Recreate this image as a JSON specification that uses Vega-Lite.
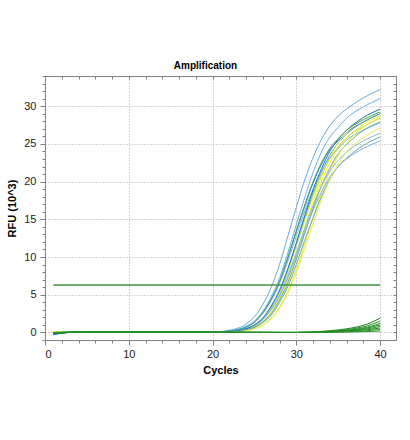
{
"$schema":"https://vega.github.io/schema/vega-lite/v6.json",
"width":351,"height":264,
"autosize":{"type":"none"},
"padding":{"left":45,"top":76,"right":14,"bottom":100},
"background":"white",
"title":{"text":"Amplification","fontSize":10,"fontWeight":"bold","font":"Liberation Sans","anchor":"middle","frame":"group","dx":-15,"offset":5,"color":"#000"},
"data":{"values":[
{"s":"a1","c":1,"v":-0.2},{"s":"a1","c":4,"v":0.1},{"s":"a1","c":9,"v":0},{"s":"a1","c":20,"v":0.05},{"s":"a1","c":22,"v":0.3},{"s":"a1","c":24,"v":1.1},{"s":"a1","c":25,"v":2.1},{"s":"a1","c":26,"v":3.7},{"s":"a1","c":27,"v":6.0},{"s":"a1","c":28,"v":9.0},{"s":"a1","c":29,"v":12.8},{"s":"a1","c":30,"v":16.6},{"s":"a1","c":31,"v":20.2},{"s":"a1","c":32,"v":23.2},{"s":"a1","c":33,"v":25.6},{"s":"a1","c":34,"v":27.4},{"s":"a1","c":35,"v":28.7},{"s":"a1","c":36,"v":29.6},{"s":"a1","c":38,"v":31.1},{"s":"a1","c":40,"v":32.2},
{"s":"a2","c":1,"v":-0.1},{"s":"a2","c":4,"v":0.12},{"s":"a2","c":9,"v":0},{"s":"a2","c":20,"v":0.03},{"s":"a2","c":22,"v":0.2},{"s":"a2","c":24,"v":0.8},{"s":"a2","c":25,"v":1.5},{"s":"a2","c":26,"v":2.8},{"s":"a2","c":27,"v":4.7},{"s":"a2","c":28,"v":7.2},{"s":"a2","c":29,"v":10.6},{"s":"a2","c":30,"v":14.3},{"s":"a2","c":31,"v":17.9},{"s":"a2","c":32,"v":21.2},{"s":"a2","c":33,"v":23.9},{"s":"a2","c":34,"v":25.9},{"s":"a2","c":35,"v":27.2},{"s":"a2","c":36,"v":28.4},{"s":"a2","c":38,"v":29.9},{"s":"a2","c":40,"v":31.0},
{"s":"a3","c":1,"v":-0.25},{"s":"a3","c":4,"v":0.08},{"s":"a3","c":9,"v":0},{"s":"a3","c":20,"v":0.03},{"s":"a3","c":22,"v":0.18},{"s":"a3","c":24,"v":0.7},{"s":"a3","c":25,"v":1.4},{"s":"a3","c":26,"v":2.6},{"s":"a3","c":27,"v":4.4},{"s":"a3","c":28,"v":6.7},{"s":"a3","c":29,"v":9.9},{"s":"a3","c":30,"v":13.4},{"s":"a3","c":31,"v":16.7},{"s":"a3","c":32,"v":19.8},{"s":"a3","c":33,"v":22.3},{"s":"a3","c":34,"v":24.2},{"s":"a3","c":35,"v":25.4},{"s":"a3","c":36,"v":26.5},{"s":"a3","c":38,"v":27.9},{"s":"a3","c":40,"v":29.0},
{"s":"a4","c":1,"v":0},{"s":"a4","c":4,"v":0.1},{"s":"a4","c":9,"v":0},{"s":"a4","c":20,"v":0.02},{"s":"a4","c":22,"v":0.12},{"s":"a4","c":24,"v":0.5},{"s":"a4","c":25,"v":1.0},{"s":"a4","c":26,"v":1.9},{"s":"a4","c":27,"v":3.4},{"s":"a4","c":28,"v":5.5},{"s":"a4","c":29,"v":8.3},{"s":"a4","c":30,"v":11.7},{"s":"a4","c":31,"v":15.2},{"s":"a4","c":32,"v":18.5},{"s":"a4","c":33,"v":21.3},{"s":"a4","c":34,"v":23.5},{"s":"a4","c":35,"v":25.1},{"s":"a4","c":36,"v":26.3},{"s":"a4","c":38,"v":27.9},{"s":"a4","c":40,"v":29.0},
{"s":"a5","c":1,"v":0.05},{"s":"a5","c":4,"v":0.1},{"s":"a5","c":9,"v":0},{"s":"a5","c":20,"v":0},{"s":"a5","c":22,"v":0.08},{"s":"a5","c":24,"v":0.36},{"s":"a5","c":25,"v":0.72},{"s":"a5","c":26,"v":1.4},{"s":"a5","c":27,"v":2.6},{"s":"a5","c":28,"v":4.4},{"s":"a5","c":29,"v":6.8},{"s":"a5","c":30,"v":10.0},{"s":"a5","c":31,"v":13.5},{"s":"a5","c":32,"v":16.9},{"s":"a5","c":33,"v":20.0},{"s":"a5","c":34,"v":22.5},{"s":"a5","c":35,"v":24.4},{"s":"a5","c":36,"v":25.7},{"s":"a5","c":38,"v":27.6},{"s":"a5","c":40,"v":28.75},
{"s":"a6","c":1,"v":-0.15},{"s":"a6","c":4,"v":0.12},{"s":"a6","c":9,"v":0},{"s":"a6","c":20,"v":0},{"s":"a6","c":22,"v":0.08},{"s":"a6","c":24,"v":0.37},{"s":"a6","c":25,"v":0.74},{"s":"a6","c":26,"v":1.4},{"s":"a6","c":27,"v":2.7},{"s":"a6","c":28,"v":4.5},{"s":"a6","c":29,"v":7.0},{"s":"a6","c":30,"v":10.3},{"s":"a6","c":31,"v":13.9},{"s":"a6","c":32,"v":17.4},{"s":"a6","c":33,"v":20.6},{"s":"a6","c":34,"v":23.2},{"s":"a6","c":35,"v":25.1},{"s":"a6","c":36,"v":26.5},{"s":"a6","c":38,"v":28.4},{"s":"a6","c":40,"v":29.6},
{"s":"a7","c":1,"v":0},{"s":"a7","c":4,"v":0.1},{"s":"a7","c":9,"v":0},{"s":"a7","c":20,"v":0.02},{"s":"a7","c":22,"v":0.12},{"s":"a7","c":24,"v":0.5},{"s":"a7","c":25,"v":1.0},{"s":"a7","c":26,"v":1.9},{"s":"a7","c":27,"v":3.3},{"s":"a7","c":28,"v":5.4},{"s":"a7","c":29,"v":8.1},{"s":"a7","c":30,"v":11.5},{"s":"a7","c":31,"v":14.9},{"s":"a7","c":32,"v":18.1},{"s":"a7","c":33,"v":20.9},{"s":"a7","c":34,"v":23.0},{"s":"a7","c":35,"v":24.6},{"s":"a7","c":36,"v":25.8},{"s":"a7","c":38,"v":27.3},{"s":"a7","c":40,"v":28.4},
{"s":"a8","c":1,"v":-0.2},{"s":"a8","c":4,"v":0.08},{"s":"a8","c":9,"v":0},{"s":"a8","c":20,"v":0.03},{"s":"a8","c":22,"v":0.17},{"s":"a8","c":24,"v":0.7},{"s":"a8","c":25,"v":1.3},{"s":"a8","c":26,"v":2.5},{"s":"a8","c":27,"v":4.2},{"s":"a8","c":28,"v":6.5},{"s":"a8","c":29,"v":9.5},{"s":"a8","c":30,"v":12.8},{"s":"a8","c":31,"v":16.1},{"s":"a8","c":32,"v":19.0},{"s":"a8","c":33,"v":21.4},{"s":"a8","c":34,"v":23.2},{"s":"a8","c":35,"v":24.4},{"s":"a8","c":36,"v":25.5},{"s":"a8","c":38,"v":26.8},{"s":"a8","c":40,"v":27.8},
{"s":"a9","c":1,"v":-0.05},{"s":"a9","c":4,"v":0.1},{"s":"a9","c":9,"v":0},{"s":"a9","c":20,"v":0},{"s":"a9","c":22,"v":0.08},{"s":"a9","c":24,"v":0.35},{"s":"a9","c":25,"v":0.7},{"s":"a9","c":26,"v":1.4},{"s":"a9","c":27,"v":2.5},{"s":"a9","c":28,"v":4.3},{"s":"a9","c":29,"v":6.6},{"s":"a9","c":30,"v":9.7},{"s":"a9","c":31,"v":13.1},{"s":"a9","c":32,"v":16.4},{"s":"a9","c":33,"v":19.4},{"s":"a9","c":34,"v":21.8},{"s":"a9","c":35,"v":23.7},{"s":"a9","c":36,"v":24.9},{"s":"a9","c":38,"v":26.8},{"s":"a9","c":40,"v":27.9},
{"s":"a10","c":1,"v":0.05},{"s":"a10","c":4,"v":0.1},{"s":"a10","c":9,"v":0},{"s":"a10","c":20,"v":0},{"s":"a10","c":22,"v":0.05},{"s":"a10","c":24,"v":0.25},{"s":"a10","c":25,"v":0.5},{"s":"a10","c":26,"v":1.0},{"s":"a10","c":27,"v":1.9},{"s":"a10","c":28,"v":3.4},{"s":"a10","c":29,"v":5.5},{"s":"a10","c":30,"v":8.3},{"s":"a10","c":31,"v":11.7},{"s":"a10","c":32,"v":15.2},{"s":"a10","c":33,"v":18.5},{"s":"a10","c":34,"v":21.3},{"s":"a10","c":35,"v":23.5},{"s":"a10","c":36,"v":25.1},{"s":"a10","c":38,"v":27.2},{"s":"a10","c":40,"v":28.5},
{"s":"a11","c":1,"v":-0.1},{"s":"a11","c":4,"v":0.1},{"s":"a11","c":9,"v":0},{"s":"a11","c":20,"v":0.02},{"s":"a11","c":22,"v":0.11},{"s":"a11","c":24,"v":0.46},{"s":"a11","c":25,"v":0.9},{"s":"a11","c":26,"v":1.7},{"s":"a11","c":27,"v":3.1},{"s":"a11","c":28,"v":5.0},{"s":"a11","c":29,"v":7.6},{"s":"a11","c":30,"v":10.6},{"s":"a11","c":31,"v":13.8},{"s":"a11","c":32,"v":16.8},{"s":"a11","c":33,"v":19.4},{"s":"a11","c":34,"v":21.4},{"s":"a11","c":35,"v":22.8},{"s":"a11","c":36,"v":23.9},{"s":"a11","c":38,"v":25.4},{"s":"a11","c":40,"v":26.4},
{"s":"a12","c":1,"v":-0.2},{"s":"a12","c":4,"v":0.08},{"s":"a12","c":9,"v":0},{"s":"a12","c":20,"v":0},{"s":"a12","c":22,"v":0.07},{"s":"a12","c":24,"v":0.32},{"s":"a12","c":25,"v":0.65},{"s":"a12","c":26,"v":1.3},{"s":"a12","c":27,"v":2.3},{"s":"a12","c":28,"v":4.0},{"s":"a12","c":29,"v":6.1},{"s":"a12","c":30,"v":9.0},{"s":"a12","c":31,"v":12.2},{"s":"a12","c":32,"v":15.2},{"s":"a12","c":33,"v":18.0},{"s":"a12","c":34,"v":20.3},{"s":"a12","c":35,"v":22.0},{"s":"a12","c":36,"v":23.1},{"s":"a12","c":38,"v":24.8},{"s":"a12","c":40,"v":25.9},
{"s":"a13","c":1,"v":-0.15},{"s":"a13","c":4,"v":0.1},{"s":"a13","c":9,"v":0},{"s":"a13","c":20,"v":0.02},{"s":"a13","c":22,"v":0.1},{"s":"a13","c":24,"v":0.44},{"s":"a13","c":25,"v":0.9},{"s":"a13","c":26,"v":1.7},{"s":"a13","c":27,"v":3.0},{"s":"a13","c":28,"v":4.8},{"s":"a13","c":29,"v":7.3},{"s":"a13","c":30,"v":10.2},{"s":"a13","c":31,"v":13.3},{"s":"a13","c":32,"v":16.2},{"s":"a13","c":33,"v":18.6},{"s":"a13","c":34,"v":20.6},{"s":"a13","c":35,"v":22.0},{"s":"a13","c":36,"v":23.0},{"s":"a13","c":38,"v":24.4},{"s":"a13","c":40,"v":25.4},
{"s":"a14","c":1,"v":0},{"s":"a14","c":4,"v":0.1},{"s":"a14","c":9,"v":0},{"s":"a14","c":20,"v":0},{"s":"a14","c":22,"v":0.05},{"s":"a14","c":24,"v":0.24},{"s":"a14","c":25,"v":0.48},{"s":"a14","c":26,"v":0.95},{"s":"a14","c":27,"v":1.8},{"s":"a14","c":28,"v":3.2},{"s":"a14","c":29,"v":5.2},{"s":"a14","c":30,"v":7.9},{"s":"a14","c":31,"v":11.1},{"s":"a14","c":32,"v":14.4},{"s":"a14","c":33,"v":17.6},{"s":"a14","c":34,"v":20.2},{"s":"a14","c":35,"v":22.3},{"s":"a14","c":36,"v":23.9},{"s":"a14","c":38,"v":25.8},{"s":"a14","c":40,"v":27.1},
{"s":"a15","c":1,"v":-0.3},{"s":"a15","c":4,"v":0.1},{"s":"a15","c":9,"v":0},{"s":"a15","c":20,"v":0.02},{"s":"a15","c":22,"v":0.12},{"s":"a15","c":24,"v":0.5},{"s":"a15","c":25,"v":1.0},{"s":"a15","c":26,"v":1.9},{"s":"a15","c":27,"v":3.5},{"s":"a15","c":28,"v":5.6},{"s":"a15","c":29,"v":8.5},{"s":"a15","c":30,"v":11.9},{"s":"a15","c":31,"v":15.5},{"s":"a15","c":32,"v":18.9},{"s":"a15","c":33,"v":21.7},{"s":"a15","c":34,"v":24.0},{"s":"a15","c":35,"v":25.6},{"s":"a15","c":36,"v":26.8},{"s":"a15","c":38,"v":28.5},{"s":"a15","c":40,"v":29.6},
{"s":"a16","c":1,"v":-0.1},{"s":"a16","c":4,"v":0.1},{"s":"a16","c":9,"v":0},{"s":"a16","c":20,"v":0.03},{"s":"a16","c":22,"v":0.18},{"s":"a16","c":24,"v":0.72},{"s":"a16","c":25,"v":1.4},{"s":"a16","c":26,"v":2.6},{"s":"a16","c":27,"v":4.4},{"s":"a16","c":28,"v":6.8},{"s":"a16","c":29,"v":10.0},{"s":"a16","c":30,"v":13.5},{"s":"a16","c":31,"v":16.9},{"s":"a16","c":32,"v":20.0},{"s":"a16","c":33,"v":22.5},{"s":"a16","c":34,"v":24.4},{"s":"a16","c":35,"v":25.7},{"s":"a16","c":36,"v":26.8},{"s":"a16","c":38,"v":28.2},{"s":"a16","c":40,"v":29.25},
{"s":"n1","c":1,"v":-0.1},{"s":"n1","c":5,"v":0.05},{"s":"n1","c":30,"v":0},{"s":"n1","c":34,"v":0.23},{"s":"n1","c":36,"v":0.48},{"s":"n1","c":38,"v":0.95},{"s":"n1","c":39,"v":1.35},{"s":"n1","c":40,"v":1.9},
{"s":"n2","c":1,"v":0},{"s":"n2","c":5,"v":0.05},{"s":"n2","c":30,"v":0},{"s":"n2","c":34,"v":0.18},{"s":"n2","c":36,"v":0.38},{"s":"n2","c":38,"v":0.75},{"s":"n2","c":39,"v":1.07},{"s":"n2","c":40,"v":1.5},
{"s":"n3","c":1,"v":-0.05},{"s":"n3","c":5,"v":0.05},{"s":"n3","c":30,"v":0},{"s":"n3","c":34,"v":0.14},{"s":"n3","c":36,"v":0.3},{"s":"n3","c":38,"v":0.6},{"s":"n3","c":39,"v":0.85},{"s":"n3","c":40,"v":1.2},
{"s":"n4","c":1,"v":-0.1},{"s":"n4","c":5,"v":0.05},{"s":"n4","c":30,"v":0},{"s":"n4","c":34,"v":0.12},{"s":"n4","c":36,"v":0.25},{"s":"n4","c":38,"v":0.5},{"s":"n4","c":39,"v":0.71},{"s":"n4","c":40,"v":1.0},
{"s":"n5","c":1,"v":0},{"s":"n5","c":5,"v":0.05},{"s":"n5","c":30,"v":0},{"s":"n5","c":34,"v":0.1},{"s":"n5","c":36,"v":0.2},{"s":"n5","c":38,"v":0.4},{"s":"n5","c":39,"v":0.57},{"s":"n5","c":40,"v":0.8},
{"s":"n6","c":1,"v":-0.05},{"s":"n6","c":5,"v":0.05},{"s":"n6","c":30,"v":0},{"s":"n6","c":34,"v":0.07},{"s":"n6","c":36,"v":0.15},{"s":"n6","c":38,"v":0.3},{"s":"n6","c":39,"v":0.43},{"s":"n6","c":40,"v":0.6},
{"s":"n7","c":1,"v":0},{"s":"n7","c":5,"v":0.05},{"s":"n7","c":30,"v":0},{"s":"n7","c":34,"v":0.05},{"s":"n7","c":36,"v":0.1},{"s":"n7","c":38,"v":0.2},{"s":"n7","c":39,"v":0.28},{"s":"n7","c":40,"v":0.4},
{"s":"n8","c":1,"v":-0.1},{"s":"n8","c":5,"v":0.05},{"s":"n8","c":30,"v":0},{"s":"n8","c":34,"v":0.02},{"s":"n8","c":36,"v":0.05},{"s":"n8","c":38,"v":0.1},{"s":"n8","c":39,"v":0.14},{"s":"n8","c":40,"v":0.2}
]},
"layer":[
{"mark":{"type":"line","interpolate":"monotone","strokeWidth":1,"clip":true},
 "encoding":{
  "x":{"field":"c","type":"quantitative","scale":{"domain":[0,41.9],"nice":false,"zero":false},
       "axis":{"orient":"bottom","values":[0,10,20,30,40],"title":"Cycles","tickSize":5,"labelPadding":3,"grid":true,"gridDash":[1,2],"gridColor":"#a8a8a8","titlePadding":5,"format":"d"}},
  "y":{"field":"v","type":"quantitative","scale":{"domain":[-1,34],"nice":false,"zero":false},
       "axis":{"orient":"left","values":[0,5,10,15,20,25,30],"title":"RFU (10^3)","tickSize":5,"labelPadding":4,"grid":true,"gridDash":[1,2],"gridColor":"#a8a8a8","titlePadding":6,"format":"d"}},
  "color":{"field":"s","type":"nominal","legend":null,
   "scale":{"domain":["a1","a2","a3","a4","a5","a6","a7","a8","a9","a10","a11","a12","a13","a14","a15","a16","n1","n2","n3","n4","n5","n6","n7","n8"],
            "range":["#62aae4","#6aaee6","#2a7fd4","#5aab8c","#eeee20","#f2f230","#b8d84a","#7bb8e6","#6db08a","#e8e830","#8ab8d8","#6aa8a0","#80b0d8","#eaea50","#1c74c8","#4aa070","#1a7f1a","#228b22","#2a932a","#1e861e","#2f9a2f","#1a7f1a","#3a9f3a","#228b22"]}}
 }},
{"data":{"values":[{"c":1,"v":6.3},{"c":40,"v":6.3}]},
 "mark":{"type":"line","color":"#3c963c","strokeWidth":1.6},
 "encoding":{
  "x":{"field":"c","type":"quantitative","scale":{"domain":[0,41.9],"nice":false,"zero":false},"axis":{"orient":"bottom","values":[2,4,6,8,12,14,16,18,22,24,26,28,32,34,36,38],"labels":false,"title":null,"grid":false,"tickSize":3,"domain":false}},
  "y":{"field":"v","type":"quantitative","scale":{"domain":[-1,34],"nice":false,"zero":false},"axis":{"orient":"left","values":[-1,1,2,3,4,6,7,8,9,11,12,13,14,16,17,18,19,21,22,23,24,26,27,28,29,31,32,33,34],"labels":false,"title":null,"grid":false,"tickSize":3,"domain":false}}
 }},
{"data":{"values":[{"c":1,"v":6.3},{"c":40,"v":6.3}]},
 "mark":{"type":"point","opacity":0},
 "encoding":{
  "x":{"field":"c","type":"quantitative","scale":{"domain":[0,41.9],"nice":false,"zero":false},"axis":{"orient":"top","values":[0,2,4,6,8,10,12,14,16,18,20,22,24,26,28,30,32,34,36,38,40],"labels":false,"title":null,"grid":false,"tickSize":-3,"domain":true}},
  "y":{"field":"v","type":"quantitative","scale":{"domain":[-1,34],"nice":false,"zero":false},"axis":{"orient":"right","values":[-1,0,1,2,3,4,5,6,7,8,9,10,11,12,13,14,15,16,17,18,19,20,21,22,23,24,25,26,27,28,29,30,31,32,33,34],"labels":false,"title":null,"grid":false,"tickSize":-3,"domain":true}}
 }}
],
"resolve":{"axis":{"x":"independent","y":"independent"}},
"config":{"view":{"stroke":null},
 "axis":{"domainColor":"#808080","tickColor":"#808080","labelColor":"#222","labelFont":"Liberation Sans","labelFontSize":11,"titleFont":"Liberation Sans","titleFontSize":11,"titleFontWeight":"bold","titleColor":"#000"}}
}
